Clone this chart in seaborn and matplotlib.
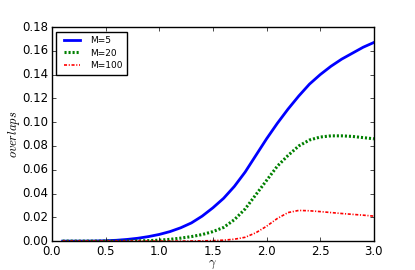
import numpy as np
import pandas as pd
import seaborn as sns
import matplotlib
matplotlib.use("Agg")
import matplotlib.pyplot as plt

# values
gamma = [0.1, 0.2, 0.3, 0.4, 0.5, 0.6, 0.7, 0.8, 0.9, 1.0,
         1.1, 1.2, 1.3, 1.4, 1.5, 1.6, 1.7, 1.8, 1.9, 2.0,
         2.1, 2.2, 2.3, 2.4, 2.5, 2.6, 2.7, 2.8, 2.9, 3.0]
overlap_m5 = [0.0, 0.0, 0.0, 0.0001, 0.0003, 0.0007, 0.0014, 0.0024, 0.0038, 0.0056,
              0.008, 0.0112, 0.0153, 0.021, 0.028, 0.036, 0.046, 0.058, 0.072, 0.086,
              0.099, 0.111, 0.122, 0.132, 0.140, 0.147, 0.153, 0.158, 0.163, 0.167]
overlap_m20 = [0.0, 0.0, 0.0, 0.0, 0.0, 0.0, 0.0001, 0.0002, 0.0004, 0.0008,
               0.0015, 0.0025, 0.0038, 0.0055, 0.008, 0.0115, 0.018, 0.027, 0.039, 0.051,
               0.063, 0.072, 0.080, 0.085, 0.0875, 0.0885, 0.0885, 0.088, 0.087, 0.086]
overlap_m100 = [0.0, 0.0, 0.0, 0.0, 0.0, 0.0, 0.0, 0.0, 0.0, 0.0,
                0.0, 0.0, 0.0001, 0.0002, 0.0004, 0.0008, 0.0016, 0.0032, 0.007, 0.0125,
                0.019, 0.024, 0.0258, 0.0255, 0.0248, 0.024, 0.0232, 0.0225, 0.0218, 0.021]

plt.style.use("classic")
plt.rcParams["figure.facecolor"] = "white"
plt.rcParams["savefig.facecolor"] = "white"

fig, ax = plt.subplots(figsize=(4.15, 2.7), dpi=100)
fig.subplots_adjust(left=0.125, right=0.901, bottom=0.107, top=0.9)

sns.lineplot(x=gamma, y=overlap_m5, ax=ax, color="blue", lw=2, label="M=5")
sns.lineplot(x=gamma, y=overlap_m20, ax=ax, color="green", lw=2.2,
             linestyle=(0, (1.5, 1.4)), label="M=20")
sns.lineplot(x=gamma, y=overlap_m100, ax=ax, color="red", lw=1.2,
             linestyle=(0, (2.2, 1.2, 0.8, 1.2)), label="M=100")

ax.set_xlim(0, 3.0)
ax.set_ylim(0, 0.18)
ax.set_xticks(np.arange(0, 3.01, 0.5))
ax.set_yticks(np.arange(0, 0.181, 0.02))
ax.tick_params(labelsize=8.5, length=3, direction="in", top=True, right=True, pad=2.5)
ax.set_xlabel(r"$\gamma$", fontsize=9, labelpad=0)
ax.set_ylabel(r"$overlaps$", fontsize=9, labelpad=0)

ax.legend(loc="upper left", fontsize=6.5, handlelength=2.4, borderpad=0.5,
          labelspacing=0.4, fancybox=False)

fig.savefig("out.png", dpi=100)
